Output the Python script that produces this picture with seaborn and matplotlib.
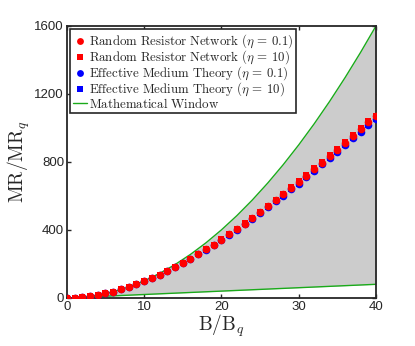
import numpy as np
import pandas as pd
import seaborn as sns
import matplotlib.pyplot as plt

# field values B/Bq
b_vals = list(range(0, 41))

# MR/MRq
rrn_eta01 = [0, 2, 5, 12, 20, 28, 37, 51, 63, 80, 99, 116, 135, 159, 180, 206, 231, 259,
             286, 314, 343, 375, 404, 437, 469, 504, 541, 576, 610, 647, 682, 720, 759,
             796, 835, 871, 914, 955, 994, 1034, 1068]
rrn_eta10 = [0, 2, 5, 12, 20, 28, 37, 51, 63, 80, 99, 116, 135, 159, 180, 206, 231, 259,
             286, 314, 344, 376, 405, 438, 471, 506, 543, 578, 613, 650, 685, 723, 762,
             800, 839, 875, 918, 960, 999, 1039, 1073]
emt_eta01 = [0, 2, 5, 12, 20, 28, 37, 51, 63, 80, 98, 116, 135, 158, 179, 205, 230, 257,
             284, 312, 340, 371, 400, 432, 463, 498, 534, 568, 602, 638, 673, 710, 748,
             785, 823, 858, 900, 940, 979, 1018, 1053]
emt_eta10 = [0, 2, 5, 12, 20, 28, 37, 51, 63, 80, 98, 116, 135, 158, 179, 205, 230, 257,
             284, 312, 340, 371, 400, 432, 463, 498, 534, 568, 602, 638, 673, 710, 748,
             785, 823, 858, 900, 940, 979, 1018, 1055]

# mathematical window bounds
win_b = [0, 2, 4, 6, 8, 10, 12, 14, 16, 18, 20, 22, 24, 26, 28, 30, 32, 34, 36, 38, 40]
win_upper = [0, 4, 16, 36, 64, 100, 144, 196, 256, 324, 400, 484, 576, 676, 784, 900,
             1024, 1156, 1296, 1444, 1600]
win_lower = [0, 4, 8, 12, 16, 20, 24, 28, 32, 36, 40, 44, 48, 52, 56, 60, 64, 68, 72, 76, 80]

sns.set_style('ticks')
plt.rcParams['font.family'] = ['Liberation Sans', 'DejaVu Sans']
plt.rcParams['mathtext.fontset'] = 'cm'

fig = plt.figure(figsize=(4.15, 3.46), dpi=100)
ax = fig.add_axes([0.161, 0.139, 0.745, 0.786])

green = '#1aaa1a'
ax.fill_between(win_b, win_lower, win_upper, color='#cccccc', lw=0, zorder=1)
win_df = pd.DataFrame({'B': win_b, 'up': win_upper, 'low': win_lower})
sns.lineplot(data=win_df, x='B', y='up', color=green, lw=1, ax=ax, zorder=2,
             label=r'$\mathrm{Mathematical\ Window}$')
sns.lineplot(data=win_df, x='B', y='low', color=green, lw=1, ax=ax, zorder=2)

df = pd.DataFrame({'B': b_vals, 'rrn01': rrn_eta01, 'rrn10': rrn_eta10,
                   'emt01': emt_eta01, 'emt10': emt_eta10})

# (column, marker, colour, size, label)
series = [
    ('emt10', 's', 'blue', 20, r'$\mathrm{Effective\ Medium\ Theory}\ (\eta\, =\, 10)$'),
    ('emt01', 'o', 'blue', 30, r'$\mathrm{Effective\ Medium\ Theory}\ (\eta\, =\, 0.1)$'),
    ('rrn10', 's', 'red', 20, r'$\mathrm{Random\ Resistor\ Network}\ (\eta\, =\, 10)$'),
    ('rrn01', 'o', 'red', 30, r'$\mathrm{Random\ Resistor\ Network}\ (\eta\, =\, 0.1)$'),
]
for i, (col, mk, c, sz, lab) in enumerate(series):
    sns.scatterplot(data=df, x='B', y=col, marker=mk, color=c, s=sz, linewidth=0,
                    ax=ax, zorder=3 + i, label=lab)

handles, labels = ax.get_legend_handles_labels()
order = [4, 3, 2, 1, 0]
leg = ax.legend([handles[k] for k in order], [labels[k] for k in order],
                loc='upper left', fontsize=9.3, frameon=True, fancybox=False,
                framealpha=1, edgecolor='#262626', handlelength=1.1,
                handletextpad=0.15, borderpad=0.2, labelspacing=-0.12,
                borderaxespad=0.25, markerscale=0.9)
leg.get_frame().set_linewidth(1.2)

ax.set_xlim(0, 40)
ax.set_ylim(0, 1600)
ax.set_xticks([0, 10, 20, 30, 40])
ax.set_yticks([0, 400, 800, 1200, 1600])
ax.tick_params(direction='in', top=True, right=True, length=3, width=1,
               labelsize=9.5, colors='#262626', labelcolor='#262626', pad=2)
for sp in ax.spines.values():
    sp.set_linewidth(1.3)
    sp.set_color('#262626')
    sp.set_visible(True)

ax.set_xlabel(r'$\mathrm{B/B}_q$', fontsize=14, color='#262626', labelpad=0)
ax.set_ylabel(r'$\mathrm{MR/MR}_q$', fontsize=14, color='#262626', labelpad=2)

fig.savefig('out.png', dpi=100)
